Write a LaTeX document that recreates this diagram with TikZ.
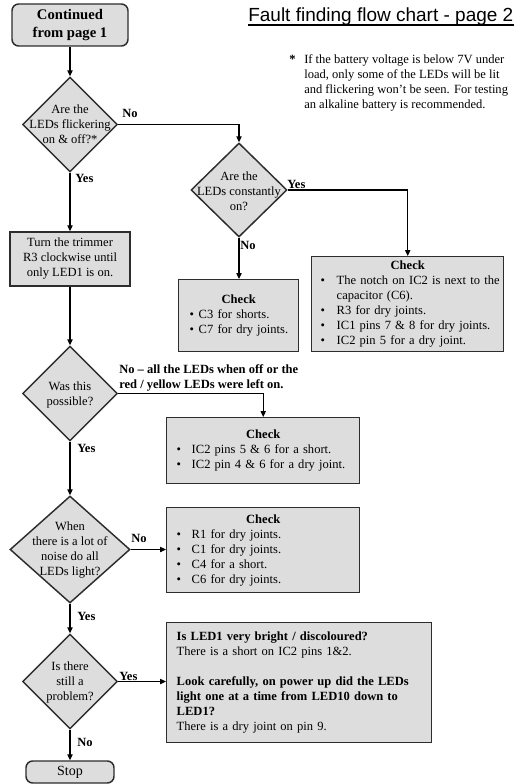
\documentclass[tikz,border=0pt]{standalone}
\usepackage{fontspec}
\setmainfont{Liberation Serif}
\newfontfamily\titlefont{Liberation Sans}
\usetikzlibrary{shapes.geometric,arrows.meta}
\newdimen\pxu \pxu=0.75pt
\definecolor{boxgray}{RGB}{221,221,221}
\definecolor{edgegray}{RGB}{45,45,45}
\newcommand\myfont{\fontsize{9.4}{11.25}\selectfont}
\newcommand\bul[2]{\hspace*{#1}\makebox[#2][l]{\textbullet}}
\begin{document}
\begin{tikzpicture}[x=0.75pt,y=-0.75pt,
  font=\myfont,
  proc/.style={draw=edgegray, fill=boxgray, line width=1.1pt, rectangle, inner xsep=0pt, inner ysep=0pt},
  term/.style={proc, rounded corners=5pt},
  dia/.style={draw=edgegray, fill=boxgray, line width=1.1pt, diamond, inner sep=0pt},
  dtext/.style={align=center, inner sep=0pt},
  lab/.style={font=\myfont\bfseries, inner sep=0pt, anchor=west},
  arr/.style={-{Triangle[length=4.5pt,width=4pt]}, line width=0.9pt, draw=black}]
\useasboundingbox (0,0) rectangle (519,784);

% title and note
\node[anchor=base west, inner sep=0pt, font=\titlefont\fontsize{14.25}{17}\selectfont] (title) at (248,22) {Fault finding flow chart - page 2};
\draw[line width=1.1pt] ([yshift=-3\pxu]title.base west) -- ([yshift=-3\pxu]title.base east);
\node[anchor=west, align=left, inner sep=0pt] (note) at (289,82.5)
 {\makebox[15\pxu][l]{\textbf{*}}If the battery voltage is below 7V under\\
  \hspace*{15\pxu}load, only some of the LEDs will be lit\\
  \hspace*{15\pxu}and flickering won’t be seen. For testing\\
  \hspace*{15\pxu}an alkaline battery is recommended.};

% start
\node[term, minimum width=116\pxu, minimum height=42\pxu, align=center, font=\bfseries\fontsize{11}{13.5}\selectfont] (start) at (70,25) {Continued\\from page 1};

% diamond 1
\node[dia, minimum width=95\pxu, minimum height=95\pxu] (d1) at (70,124.5) {};
\node[dtext] (d1t) at (70,124) {Are the\\LEDs flickering\\on \& off?*};

% diamond 2
\node[dia, minimum width=96\pxu, minimum height=94\pxu] (d2) at (239,190) {};
\node[dtext] (d2t) at (239,191) {Are the\\LEDs constantly\\on?};

% check 1
\node[proc, anchor=north west, text width=120\pxu, minimum height=72\pxu, align=left] (chk1) at (178,279)
 {\makebox[120\pxu]{\textbf{Check}}\\
  \bul{11\pxu}{9\pxu}C3 for shorts.\\
  \bul{11\pxu}{9\pxu}C7 for dry joints.};

% check 2
\node[proc, anchor=north west, text width=192\pxu, minimum height=95\pxu, align=left] (chk2) at (311,256)
 {\makebox[192\pxu]{\textbf{Check}}\\
  \bul{9\pxu}{16\pxu}The notch on IC2 is next to the\\
  \hspace*{25\pxu}capacitor (C6).\\
  \bul{9\pxu}{16\pxu}R3 for dry joints.\\
  \bul{9\pxu}{16\pxu}IC1 pins 7 \& 8 for dry joints.\\
  \bul{9\pxu}{16\pxu}IC2 pin 5 for a dry joint.};

% trimmer
\node[proc, minimum width=120\pxu, minimum height=54\pxu, align=center] (trim) at (70,259) {Turn the trimmer\\R3 clockwise until\\only LED1 is on.};

% diamond 3
\node[dia, minimum width=95\pxu, minimum height=95\pxu] (d3) at (70,393.5) {};
\node[dtext] (d3t) at (70,394.5) {Was this\\possible?};

% check 3
\node[proc, anchor=north west, text width=193\pxu, minimum height=66\pxu, align=left] (chk3) at (166,417)
 {\makebox[193\pxu]{\textbf{Check}}\\
  \bul{10\pxu}{15\pxu}IC2 pins 5 \& 6 for a short.\\
  \bul{10\pxu}{15\pxu}IC2 pin 4 \& 6 for a dry joint.};

% diamond 4
\node[dia, minimum width=120\pxu, minimum height=107\pxu] (d4) at (70,549.5) {};
\node[dtext] (d4t) at (70,549.5) {When\\there is a lot of\\noise do all\\LEDs light?};

% check 4
\node[proc, anchor=north west, text width=193\pxu, minimum height=85\pxu, align=left] (chk4) at (166,507)
 {\makebox[193\pxu]{\textbf{Check}}\\
  \bul{10\pxu}{15\pxu}R1 for dry joints.\\
  \bul{10\pxu}{15\pxu}C1 for dry joints.\\
  \bul{10\pxu}{15\pxu}C4 for a short.\\
  \bul{10\pxu}{15\pxu}C6 for dry joints.};

% diamond 5
\node[dia, minimum width=95\pxu, minimum height=95\pxu] (d5) at (70,681.5) {};
\node[dtext] (d5t) at (70,682) {Is there\\still a\\problem?};

% check 5
\node[proc, anchor=north west, inner xsep=10\pxu, text width=245\pxu, minimum height=120\pxu, align=left] (chk5) at (166,622)
 {\textbf{Is LED1 very bright / discoloured?}\\
  There is a short on IC2 pins 1\&2.\\[11.25pt]
  \textbf{Look carefully, on power up did the LEDs}\\
  \textbf{light one at a time from LED10 down to}\\
  \textbf{LED1?}\\
  There is a dry joint on pin 9.};

% stop
\node[term, minimum width=88\pxu, minimum height=22\pxu, font=\fontsize{10.5}{12}\selectfont] (stop) at (70,772) {Stop};

% connectors
\draw[arr] (start.south) -- (d1.north);
\draw[arr] (d1.east) -| (d2.north);
\draw[arr] (d1.south) -- (trim.north);
\draw[arr] (d2.east) -| (chk2.north);
\draw[arr] (d2.south) -- (d2.south |- chk1.north);
\draw[arr] (trim.south) -- (d3.north);
\draw[arr] (d3.east) -| (chk3.north);
\draw[arr] (d3.south) -- (d4.north);
\draw[arr] (d4.east) -- (chk4.west |- d4.east);
\draw[arr] (d4.south) -- (d5.north);
\draw[arr] (d5.east) -- (chk5.west |- d5.east);
\draw[arr] (d5.south) -- (stop.north);

% labels
\node[lab] (l1) at (122,113) {No};
\node[lab] (l2) at (75,178) {Yes};
\node[lab] (l3) at (287,184) {Yes};
\node[lab] (l4) at (240,245) {No};
\node[lab, align=left] (l5) at (119,378) {No – all the LEDs when off or the\\red / yellow LEDs were left on.};
\node[lab] (l6) at (77,448) {Yes};
\node[lab] (l7) at (131,538) {No};
\node[lab] (l8) at (77,616) {Yes};
\node[lab] (l9) at (119,676) {Yes};
\node[lab] (l10) at (77,742) {No};
\end{tikzpicture}
\end{document}
